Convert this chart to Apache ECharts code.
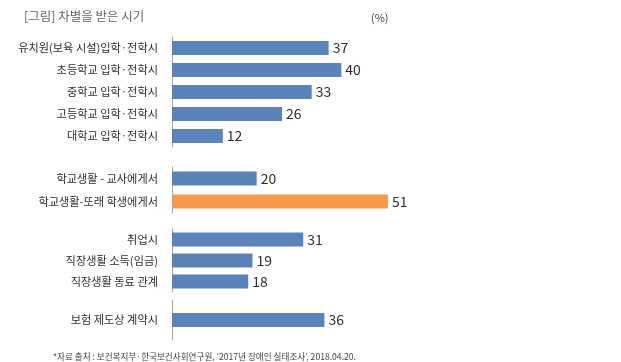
<!DOCTYPE html>
<html><head><meta charset="utf-8">
<script src="https://cdn.jsdelivr.net/npm/echarts@6/dist/echarts.min.js"></script>
<style>html,body{margin:0;padding:0;background:#fff}#c{width:621px;height:362px}</style>
</head><body><div id="c"></div>
<script>
const cats1 = ['유치원(보육 시설)입학·전학시','초등학교 입학·전학시','중학교 입학·전학시','고등학교 입학·전학시','대학교 입학·전학시'];
const vals1 = [37,40,33,26,12];
const cats2 = ['학교생활 - 교사에게서','학교생활-또래 학생에게서'];
const vals2 = [20,51];
const cats3 = ['취업시','직장생활 소득(임금)','직장생활 동료 관계'];
const vals3 = [31,19,18];
const cats4 = ['보험 제도상 계약시'];
const vals4 = [36];
const highlight = '학교생활-또래 학생에게서';

const blue = '#5b83b9', orange = '#f59a48';
const font = '"Noto Sans CJK KR","Noto Sans",sans-serif';
const groups = [
  {cats:cats1, vals:vals1, top:37, height:110},
  {cats:cats2, vals:vals2, top:167, height:46},
  {cats:cats3, vals:vals3, top:229, height:63},
  {cats:cats4, vals:vals4, top:300, height:40}
];
const grid=[], xAxis=[], yAxis=[], series=[];
groups.forEach((g,i)=>{
  grid.push({left:172, width:254, top:g.top, height:g.height});
  xAxis.push({type:'value', gridIndex:i, min:0, max:60, show:false});
  yAxis.push({type:'category', gridIndex:i, data:g.cats, inverse:true,
    axisLine:{show:true, lineStyle:{color:'#a8a8a8', width:1}},
    axisTick:{show:false},
    axisLabel:{margin:14, color:'#2f2f2f', fontSize:11.2, fontFamily:font}});
  series.push({type:'bar', xAxisIndex:i, yAxisIndex:i, barWidth:14,
    data:g.vals.map((v,j)=>({value:v, itemStyle:{color: g.cats[j]===highlight?orange:blue}})),
    label:{show:true, position:'right', distance:4, color:'#2f2f2f', fontSize:14, fontFamily:font},
    silent:true, animation:false});
});
const chart = echarts.init(document.getElementById('c'));
chart.setOption({
  animation:false,
  title:[
    {text:'[그림] 차별을 받은 시기', left:19, top:5, textStyle:{color:'#666', fontSize:12.5, fontWeight:'normal', fontFamily:font}},
    {text:'(%)', left:366, top:7, textStyle:{color:'#444', fontSize:11, fontWeight:'normal', fontFamily:font}},
    {text:'*자료 출처 : 보건복지부·한국보건사회연구원, ‘2017년 장애인 실태조사’, 2018.04.20.', left:48, top:347, textStyle:{color:'#444', fontSize:8.6, fontWeight:'normal', fontFamily:font}}
  ],
  grid, xAxis, yAxis, series
});
</script></body></html>
